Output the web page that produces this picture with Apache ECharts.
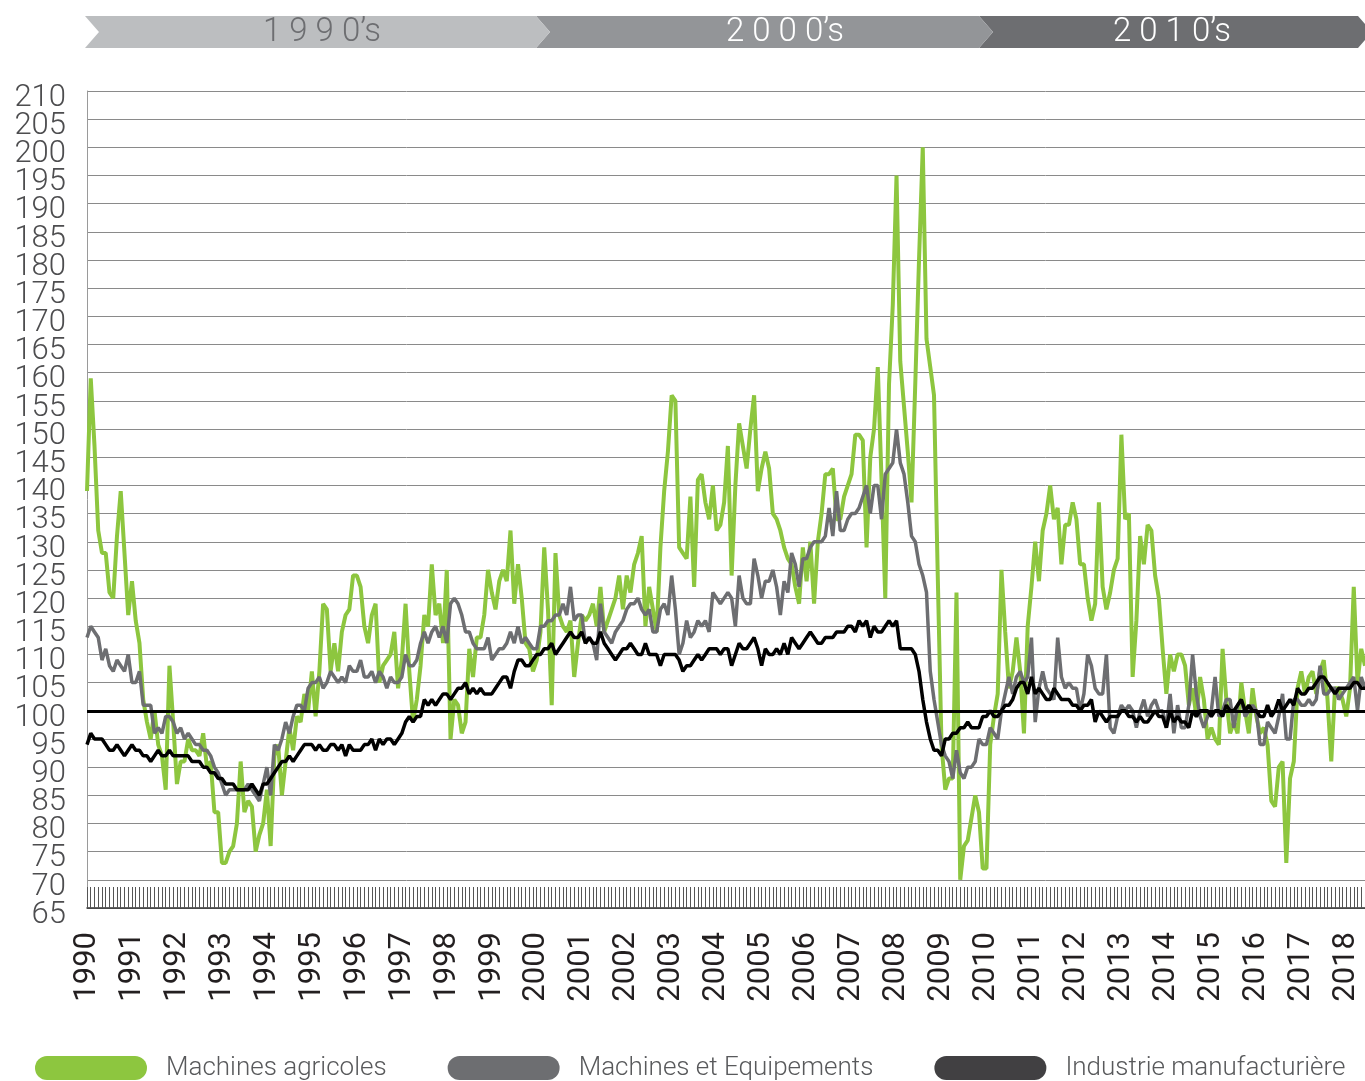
<!DOCTYPE html>
<html><head><meta charset="utf-8">
<script src="https://cdn.jsdelivr.net/npm/echarts@6/dist/echarts.min.js"></script>
<style>html,body{margin:0;padding:0;background:#fff}#c{width:1365px;height:1081px}</style>
</head><body><div id="c"></div>
<script>
const FONT = "Roboto, 'DejaVu Sans Condensed', sans-serif";
const seriesNames = ['Machines agricoles', 'Machines et Equipements', 'Industrie manufacturière'];
const decadeLabels = ['1 9 9 0’s', '2 0 0 0’s', '2 0 1 0’s'];
const firstYear = 1990;
const yMin = 65, yMax = 210, yStep = 5;

const machinesAgricoles = [
139,159,147,132,128,128,121,120,131,139,128,117,
123,116,112,102,98,95,100,94,92,86,108,98,
87,91,91,95,93,93,92,96,90,91,82,82,
73,73,75,76,80,91,82,84,83,75,78,80,
86,76,92,94,85,91,97,93,99,98,103,100,
107,99,107,119,118,107,112,107,114,117,118,124,
124,122,115,112,117,119,105,108,109,110,114,104,
109,119,107,98,102,108,117,115,126,117,119,112,
125,95,102,101,96,98,111,106,113,113,117,125,
121,118,123,125,123,132,119,126,120,112,111,107,
109,114,129,118,101,128,117,115,114,116,106,112,
117,116,117,119,115,122,114,116,118,120,124,118,
124,121,126,128,131,115,122,118,114,129,139,146,
156,155,129,128,127,138,122,141,142,137,134,140,
132,133,137,147,124,140,151,147,143,150,156,139,
143,146,143,135,134,132,129,127,126,122,119,129,
123,130,119,130,135,142,142,143,134,134,138,140,
142,149,149,148,129,145,150,161,141,120,158,172,
195,162,154,146,137,158,180,200,166,161,156,124,
94,86,88,88,121,70,76,77,81,85,82,72,
72,94,99,103,125,114,104,107,113,107,96,115,
122,130,123,132,135,140,134,136,126,133,133,137,
134,126,126,120,116,119,137,122,118,121,125,127,
149,134,135,106,116,131,126,133,132,124,120,111,
103,110,107,110,110,108,101,104,99,106,102,95,
97,95,94,111,102,96,98,96,105,100,96,104,
99,96,97,94,84,83,90,91,73,88,91,104,
107,103,106,107,103,107,109,102,91,104,104,102,
99,104,122,105,111,108
];

const machinesEquipements = [
113,115,114,113,109,111,108,107,109,108,107,110,
105,105,107,101,101,101,96,97,96,99,99,98,
96,97,95,96,95,94,94,93,93,92,90,89,
87,85,86,86,86,86,86,87,86,85,84,87,
90,85,94,93,95,98,96,99,101,101,100,104,
105,105,106,104,105,107,106,105,106,105,108,107,
107,109,106,106,107,105,107,106,104,106,105,105,
106,110,108,108,109,112,114,112,114,115,113,115,
112,119,120,119,117,114,114,112,111,111,111,113,
109,110,111,111,112,114,112,115,112,113,112,111,
111,115,115,116,116,117,117,119,117,122,116,117,
117,112,113,112,109,119,114,113,112,114,115,116,
118,119,119,120,118,117,118,114,114,118,119,117,
124,118,110,112,116,113,114,116,115,116,114,121,
120,119,120,121,120,115,124,120,119,119,127,124,
120,123,123,125,122,117,123,121,128,126,122,127,
127,129,130,130,130,131,136,131,139,132,132,134,
135,135,136,138,140,135,140,140,134,142,143,144,
150,144,142,137,131,130,126,124,121,107,102,98,
94,92,91,88,93,89,88,90,90,91,95,94,
94,97,96,95,100,103,106,103,106,107,105,106,
113,98,104,107,104,103,102,113,106,104,105,104,
104,100,103,110,108,104,103,103,110,97,96,99,
101,100,101,100,97,100,102,99,101,102,100,100,
97,103,96,101,97,97,101,110,103,99,97,99,
100,106,99,100,102,102,97,101,102,99,100,101,
100,94,94,98,97,96,99,103,95,95,102,102,
101,101,102,101,102,108,103,103,104,104,102,103,
104,105,106,100,106,104
];

const industrieManufacturiere = [
94,96,95,95,95,94,93,93,94,93,92,93,
94,93,93,92,92,91,92,93,92,92,93,92,
92,92,92,92,91,91,91,90,90,89,89,88,
88,87,87,87,86,86,86,86,87,86,85,87,
87,88,89,90,91,91,92,91,92,93,94,94,
94,93,94,93,93,94,94,93,94,92,94,93,
93,93,94,94,95,93,95,94,95,95,94,95,
96,98,99,98,99,99,102,101,102,101,102,103,
103,102,103,104,104,105,103,104,103,104,103,103,
103,104,105,106,106,104,107,109,109,108,108,109,
110,110,111,111,112,110,111,112,113,114,113,113,
114,112,113,112,112,114,112,111,110,109,110,111,
111,112,111,110,110,112,110,110,110,108,110,110,
110,110,109,107,108,108,109,110,109,110,111,111,
111,110,111,111,108,110,112,111,111,112,113,111,
108,111,110,110,111,110,112,110,113,112,111,112,
113,114,113,112,112,113,113,113,114,114,114,115,
115,114,116,115,116,113,115,114,114,115,116,115,
116,111,111,111,111,110,107,102,98,95,93,93,
92,95,95,96,96,97,97,98,97,97,97,99,
99,100,99,99,100,101,101,102,104,105,105,103,
106,103,104,103,102,102,104,103,102,102,102,101,
101,100,101,101,102,98,100,99,98,99,99,99,
100,100,99,99,98,99,98,98,99,100,99,99,
97,100,98,99,98,98,97,100,99,100,100,100,
99,100,100,99,101,100,100,101,102,100,101,100,
100,99,99,101,99,100,102,100,101,102,101,104,
103,103,104,104,105,106,106,105,104,103,104,104,
104,104,105,105,104,104
];

const referenceLevel = 100;

// month categories "YYYY-MM"
const months = machinesAgricoles.map((_, i) =>
  (firstYear + Math.floor(i / 12)) + '-' + String(i % 12 + 1).padStart(2, '0'));

const colors = ['#8dc63f', '#6d6e71', '#000000'];
const legendColors = ['#8dc63f', '#6d6e71', '#414042'];

const yLabelStyle = {fontSize: 31, fontFamily: FONT, fontWeight: 300, color: '#4d4d4f', margin: 21,
  hideOverlap: false, verticalAlign: 'top', lineHeight: 14};

const chart = echarts.init(document.getElementById('c'), null, {renderer: 'canvas'});

const option = {
  animation: false,
  backgroundColor: '#ffffff',
  grid: {left: 87, right: 0, top: 91, bottom: 173, containLabel: false},
  legend: {
    left: 30, top: 1050, width: 1600,
    itemWidth: 112, itemHeight: 24, itemGap: 61,
    icon: 'path://M12,0L100,0A12,12,0,0,1,100,24L12,24A12,12,0,0,1,12,0Z',
    textStyle: {fontSize: 26, fontFamily: FONT, fontWeight: 300, color: '#58595b', padding: [0, 0, 0, 14]},
    data: seriesNames.map((n, i) => ({name: n, itemStyle: {color: legendColors[i], borderWidth: 0}}))
  },
  xAxis: {
    type: 'category', data: months, boundaryGap: false,
    axisLine: {lineStyle: {color: '#333333', width: 1.5}},
    axisTick: {show: true, interval: 0, inside: true, length: 21, lineStyle: {color: '#555555', width: 1}},
    axisLabel: {interval: 11, rotate: 90, margin: 24, fontSize: 31, fontFamily: FONT, fontWeight: 400,
      color: '#231f20', formatter: v => v.slice(0, 4)},
    splitLine: {show: false}
  },
  yAxis: [
    {
      type: 'value', min: yMin, max: yMax, interval: yStep,
      axisLine: {show: true, lineStyle: {color: '#9a9a9a', width: 1}},
      axisTick: {show: false},
      axisLabel: Object.assign({}, yLabelStyle, {showMinLabel: false, showMaxLabel: false}),
      splitLine: {lineStyle: {color: '#8a8a8a', width: 1}}
    },
    {
      // companion axis on the same side that carries only the end labels (min / max)
      type: 'value', min: yMin, max: yMax, interval: yStep, position: 'left', offset: 0,
      axisLine: {show: false}, axisTick: {show: false}, splitLine: {show: false},
      axisLabel: Object.assign({}, yLabelStyle, {showMinLabel: true, showMaxLabel: true,
        formatter: v => (v === yMin || v === yMax) ? String(v) : ''})
    }
  ],
  series: [
    {name: seriesNames[0], type: 'line', data: machinesAgricoles, showSymbol: false, symbol: 'none',
     lineStyle: {color: colors[0], width: 4}, itemStyle: {color: colors[0]}, z: 2,
     markLine: {silent: true, symbol: 'none', label: {show: false},
       lineStyle: {color: '#000', width: 3, type: 'solid'}, data: [{yAxis: referenceLevel}]}},
    {name: seriesNames[1], type: 'line', data: machinesEquipements, showSymbol: false, symbol: 'none',
     lineStyle: {color: colors[1], width: 3.5}, itemStyle: {color: colors[1]}, z: 3},
    {name: seriesNames[2], type: 'line', data: industrieManufacturiere, showSymbol: false, symbol: 'none',
     lineStyle: {color: colors[2], width: 3.5}, itemStyle: {color: colors[2]}, z: 4}
  ]
};
chart.setOption(option);

// decade banners at the top
const bandTop = 16, bandBot = 48, bandMid = 32, tip = 14;
const bandEdges = [[85, 536], [536, 979], [979, 1358]];
const bandFills = ['#bcbec0', '#939598', '#6d6e71'];
const textFills = ['#6d6e71', '#ffffff', '#ffffff'];
const textCenters = [322, 785, 1172];
const graphics = [];
bandEdges.forEach((e, i) => {
  const [l, r] = e;
  graphics.push({type: 'polygon', z: 100 - i,
    shape: {points: [[l, bandTop], [r, bandTop], [r + tip, bandMid], [r, bandBot], [l, bandBot], [l + tip, bandMid]]},
    style: {fill: bandFills[i]}});
  graphics.push({type: 'text', z: 110, x: textCenters[i], y: bandMid + 1,
    style: {text: decadeLabels[i], fill: textFills[i], fontSize: 33, fontWeight: 300, fontFamily: FONT,
      align: 'center', verticalAlign: 'middle'}});
});
chart.setOption({graphic: graphics});
</script></body></html>
